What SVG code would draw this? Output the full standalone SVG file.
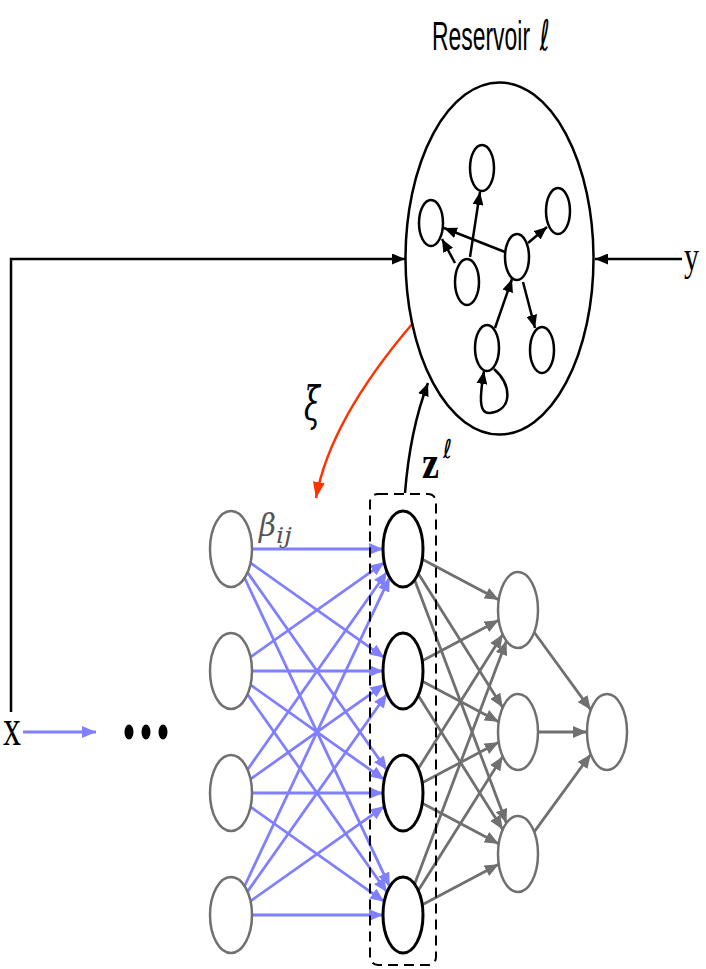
<svg xmlns="http://www.w3.org/2000/svg" width="706" height="969" viewBox="0 0 706 969">
<style>
.bl{stroke:#7f7fff;stroke-width:2.8;fill:none;marker-end:url(#ab)}
.gr{stroke:#707070;stroke-width:2.8;fill:none;marker-end:url(#ag)}
.bk{stroke:#000;stroke-width:2.5;fill:none;marker-end:url(#ak)}
.ng{fill:#fff;stroke:#707070;stroke-width:2.5}
.nk{fill:#fff;stroke:#000;stroke-width:3}
.rn{fill:#fff;stroke:#000;stroke-width:2.5}
</style>
<defs>
<marker id="ab" markerUnits="userSpaceOnUse" markerWidth="14" markerHeight="12" refX="14" refY="6" orient="auto"><path d="M0,0 L14,6 L0,12 z" fill="#7f7fff"/></marker>
<marker id="ag" markerUnits="userSpaceOnUse" markerWidth="14" markerHeight="12" refX="14" refY="6" orient="auto"><path d="M0,0 L14,6 L0,12 z" fill="#707070"/></marker>
<marker id="ak" markerUnits="userSpaceOnUse" markerWidth="13" markerHeight="11" refX="13" refY="5.5" orient="auto"><path d="M0,0 L13,5.5 L0,11 z" fill="#000"/></marker>
<marker id="ar" markerUnits="userSpaceOnUse" markerWidth="16" markerHeight="12" refX="16" refY="6" orient="auto"><path d="M0,0 L16,6 L0,12 z" fill="#ff3300"/></marker>
</defs>
<rect width="706" height="969" fill="#fff"/>
<g id="connectors">
<path class="bk" d="M11,712 L11,259 L405,259"/>
<path class="bk" d="M682,259 L595,259"/>
<path d="M413,323 Q330,420 316,498" stroke="#ff3300" stroke-width="2.5" fill="none" marker-end="url(#ar)"/>
<path class="bk" d="M405,493 Q410,430 428,383"/>
<path class="bl" d="M23,732 L96,732"/>
<path class="bk" d="M470,257 L480,192"/>
<path class="bk" d="M455,263 L442,239"/>
<path class="bk" d="M505,252 L444,228"/>
<path class="bk" d="M528,243 L547,227"/>
<path class="bk" d="M523,282 L535,328"/>
<path class="bk" d="M495,328 L512,279"/>
<path class="bk" d="M494,369 C512,385 513,410 490,413 C478,414 480,395 484,371"/>
<line class="bl" x1="252" y1="549" x2="383" y2="549"/>
<line class="bl" x1="250.5" y1="562.9" x2="384.3" y2="657.7"/>
<line class="bl" x1="247.5" y1="572.4" x2="387" y2="770.3"/>
<line class="bl" x1="244.6" y1="578" x2="389.7" y2="886.7"/>
<line class="bl" x1="250.5" y1="657.1" x2="384.3" y2="562.3"/>
<line class="bl" x1="252" y1="671" x2="383" y2="671"/>
<line class="bl" x1="250.5" y1="684.9" x2="384.3" y2="779.7"/>
<line class="bl" x1="247.5" y1="694.4" x2="387" y2="892.3"/>
<line class="bl" x1="247.5" y1="769.6" x2="387" y2="571.7"/>
<line class="bl" x1="250.5" y1="779.1" x2="384.3" y2="684.3"/>
<line class="bl" x1="252" y1="793" x2="383" y2="793"/>
<line class="bl" x1="250.5" y1="806.9" x2="384.3" y2="901.7"/>
<line class="bl" x1="244.6" y1="886" x2="389.7" y2="577.4"/>
<line class="bl" x1="247.5" y1="891.6" x2="387" y2="693.7"/>
<line class="bl" x1="250.5" y1="901.1" x2="384.3" y2="806.3"/>
<line class="bl" x1="252" y1="915" x2="383" y2="915"/>
<line class="gr" x1="422.3" y1="559.2" x2="498.7" y2="599.8"/>
<line class="gr" x1="418.3" y1="573.4" x2="502.7" y2="707.6"/>
<line class="gr" x1="414.7" y1="579.9" x2="506.4" y2="823.1"/>
<line class="gr" x1="422.3" y1="660.8" x2="498.7" y2="620.2"/>
<line class="gr" x1="422.3" y1="681.2" x2="498.7" y2="721.8"/>
<line class="gr" x1="418.3" y1="695.4" x2="502.7" y2="829.6"/>
<line class="gr" x1="418.3" y1="768.6" x2="502.7" y2="634.4"/>
<line class="gr" x1="422.3" y1="782.8" x2="498.7" y2="742.2"/>
<line class="gr" x1="422.3" y1="803.2" x2="498.7" y2="843.8"/>
<line class="gr" x1="414.7" y1="884.1" x2="506.4" y2="640.9"/>
<line class="gr" x1="418.3" y1="890.6" x2="502.7" y2="756.4"/>
<line class="gr" x1="422.3" y1="904.8" x2="498.7" y2="864.2"/>
<line class="gr" x1="534.2" y1="632.2" x2="590.8" y2="709.8"/>
<line class="gr" x1="538" y1="732" x2="587" y2="732"/>
<line class="gr" x1="534.2" y1="831.8" x2="590.8" y2="754.2"/>
</g>
<g id="reservoir">
<ellipse cx="499.5" cy="258.5" rx="94" ry="176" fill="none" stroke="#000" stroke-width="2.5"/>
<text transform="translate(432,50) scale(0.573,1)" font-family="Liberation Sans, Arial, sans-serif" font-size="40">Reservoir <tspan font-family="DejaVu Sans, sans-serif" font-size="42" dx="6">ℓ</tspan></text>
</g>
<g id="r1"><ellipse class="rn" cx="482" cy="168" rx="12" ry="23"/></g>
<g id="r2"><ellipse class="rn" cx="431" cy="223" rx="12" ry="23"/></g>
<g id="r3"><ellipse class="rn" cx="558" cy="211" rx="12" ry="23"/></g>
<g id="r4"><ellipse class="rn" cx="517" cy="257" rx="12" ry="23"/></g>
<g id="r5"><ellipse class="rn" cx="467" cy="282" rx="12" ry="23"/></g>
<g id="r6"><ellipse class="rn" cx="487" cy="348" rx="12" ry="23"/></g>
<g id="r7"><ellipse class="rn" cx="542" cy="350" rx="12" ry="23"/></g>
<g id="in1"><ellipse class="ng" cx="231" cy="549" rx="21" ry="38"/></g>
<g id="in2"><ellipse class="ng" cx="231" cy="671" rx="21" ry="38"/></g>
<g id="in3"><ellipse class="ng" cx="231" cy="793" rx="21" ry="38"/></g>
<g id="in4"><ellipse class="ng" cx="231" cy="915" rx="21" ry="38"/></g>
<g id="h1"><ellipse class="nk" cx="403" cy="549" rx="20" ry="38"/></g>
<g id="h2"><ellipse class="nk" cx="403" cy="671" rx="20" ry="38"/></g>
<g id="h3"><ellipse class="nk" cx="403" cy="793" rx="20" ry="38"/></g>
<g id="h4"><ellipse class="nk" cx="403" cy="915" rx="20" ry="38"/></g>
<g id="g1"><ellipse class="ng" cx="518" cy="610" rx="20" ry="38"/></g>
<g id="g2"><ellipse class="ng" cx="518" cy="732" rx="20" ry="38"/></g>
<g id="g3"><ellipse class="ng" cx="518" cy="854" rx="20" ry="38"/></g>
<g id="out"><ellipse class="ng" cx="607" cy="732" rx="20" ry="38"/></g>
<g id="layerbox"><rect x="370" y="494" width="66" height="471" rx="8" fill="none" stroke="#000" stroke-width="2" stroke-dasharray="10,6"/></g>
<g id="labels">
<text x="3" y="745" font-family="Liberation Serif, serif" font-size="52" textLength="18" lengthAdjust="spacingAndGlyphs">x</text>
<text x="684" y="270" font-family="Liberation Serif, serif" font-size="42" textLength="15" lengthAdjust="spacingAndGlyphs">y</text>
<text x="304" y="420" font-family="DejaVu Serif, serif" font-style="italic" font-size="46" textLength="16" lengthAdjust="spacingAndGlyphs">ξ</text>
<text x="422" y="478" font-family="Liberation Serif, serif" font-weight="bold" font-size="46" textLength="17" lengthAdjust="spacingAndGlyphs">z</text>
<text x="443" y="458" font-family="DejaVu Sans, sans-serif" font-size="26" textLength="9" lengthAdjust="spacingAndGlyphs">ℓ</text>
<text x="259" y="536" font-family="DejaVu Serif, serif" font-style="italic" font-size="32" fill="#555" textLength="17" lengthAdjust="spacingAndGlyphs">β</text>
<text x="276" y="543" font-family="DejaVu Serif, serif" font-style="italic" font-size="22" fill="#555" textLength="16" lengthAdjust="spacingAndGlyphs">ij</text>
<ellipse cx="129" cy="732" rx="4.5" ry="7.5"/>
<ellipse cx="146" cy="732" rx="4.5" ry="7.5"/>
<ellipse cx="163" cy="732" rx="4.5" ry="7.5"/>
</g>
</svg>
